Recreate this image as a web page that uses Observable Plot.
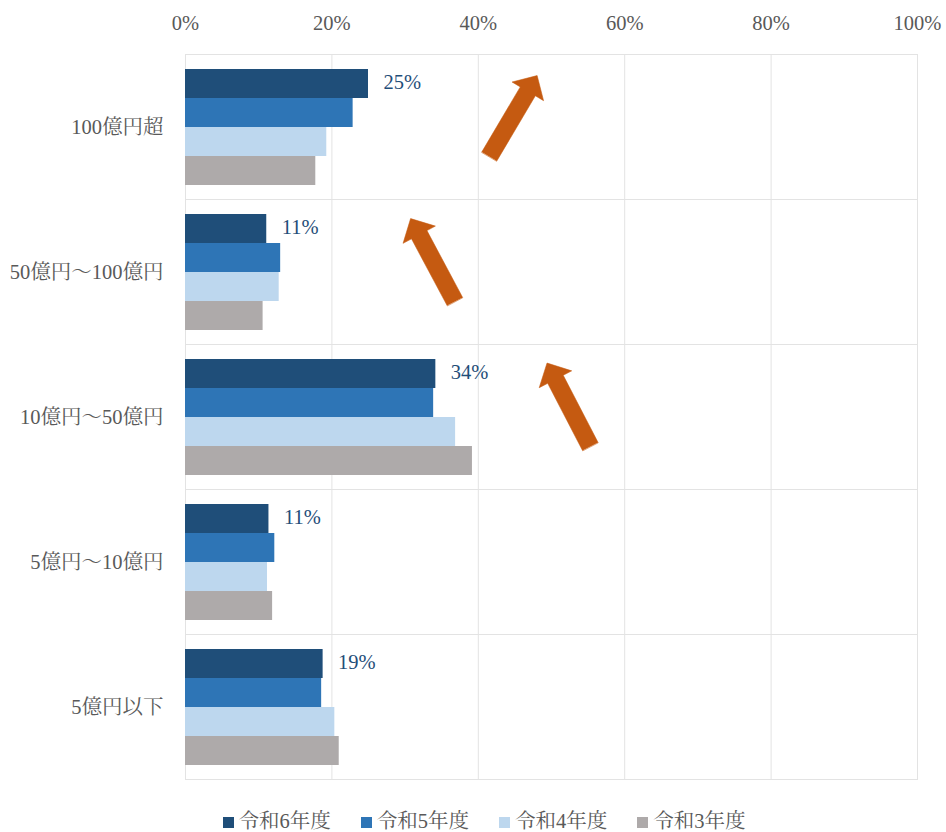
<!DOCTYPE html>
<html><head><meta charset="utf-8">
<script src="https://cdn.jsdelivr.net/npm/d3@7"></script>
<script src="https://cdn.jsdelivr.net/npm/@observablehq/plot@0.6"></script>
<style>
body{margin:0;background:#fff;font-family:"Liberation Serif","Noto Serif CJK JP","Noto Sans CJK JP",serif;}
#chart svg{display:block;}
#legend{display:flex;justify-content:center;gap:30px;padding-top:15px;padding-left:22px;width:924px;height:22px;font-size:20.5px;color:#595959;line-height:22px;}
#legend .item{display:flex;align-items:center;}
#legend .sw{width:11px;height:11px;margin-right:5px;margin-top:2px;}
</style></head><body>
<div id="chart"></div>
<div id="legend"></div>
<script>
const categories = ["100億円超", "50億円～100億円", "10億円～50億円", "5億円～10億円", "5億円以下"];
const series = ["令和6年度", "令和5年度", "令和4年度", "令和3年度"];
const r6 = [25.0, 11.1, 34.2, 11.4, 18.8];
const r5 = [22.9, 13.0, 33.9, 12.2, 18.6];
const r4 = [19.3, 12.8, 36.9, 11.2, 20.4];
const r3 = [17.8, 10.6, 39.2, 11.9, 21.0];
const labels = ["25%", "11%", "34%", "11%", "19%"];
const colors = ["#1f4e79", "#2e75b6", "#bdd7ee", "#aeaaaa"];
const xTicks = [0, 20, 40, 60, 80, 100];
// annotation arrows: category, tail x (%), rotation (deg)
const arrowCats = ["100億円超", "50億円～100億円", "10億円～50億円"];
const arrowX = [41.5, 36.8, 55.3];
const arrowRot = [30.6, -28.1, -27.4];

const valuesBySeries = [r6, r5, r4, r3];
const rows = [];
categories.forEach((c, i) => series.forEach((s, j) => rows.push({category: c, series: s, value: valuesBySeries[j][i]})));
const labelRows = categories.map((c, i) => ({category: c, series: series[0], value: r6[i], label: labels[i]}));
const arrows = arrowCats.map((c, i) => ({category: c, x: arrowX[i], rotate: arrowRot[i], series: series[3]}));

const blockArrow = {
  draw(context, l) {
    const w = 8.75, hw = 18.3, hl = 18.3;
    context.moveTo(-w, 0);
    context.lineTo(-w, -(l - hl));
    context.lineTo(-hw, -(l - hl));
    context.lineTo(0, -l);
    context.lineTo(hw, -(l - hl));
    context.lineTo(w, -(l - hl));
    context.lineTo(w, 0);
    context.closePath();
  }
};

const font = '"Liberation Serif","Noto Serif CJK JP","Noto Sans CJK JP",serif';
const chart = Plot.plot({
  width: 946,
  height: 795,
  marginLeft: 185,
  marginRight: 29,
  marginTop: 53,
  marginBottom: 16,
  style: {fontFamily: font, fontSize: "20.5px", color: "#595959", background: "#fff"},
  x: {domain: [0, 100], ticks: xTicks, tickFormat: d => d + "%", axis: "top", tickSize: 0, tickPadding: 25, label: null},
  y: {domain: series, axis: null, paddingInner: 0, paddingOuter: 0.5},
  fy: {domain: categories, padding: 0, label: null, tickSize: 0, tickPadding: 22, axis: "left"},
  color: {domain: series, range: colors},
  marks: [
    Plot.gridX(xTicks, {stroke: "#e3e3e3", strokeOpacity: 1}),
    Plot.frame({stroke: "#e3e3e3"}),
    Plot.barX(rows, {x: "value", y: "series", fy: "category", fill: "series"}),
    Plot.text(labelRows, {x: "value", y: "series", fy: "category", text: "label", dx: 15, dy: -1.5, textAnchor: "start", fill: "#1f4e79", fontSize: 20.5}),
    Plot.vector(arrows, {x: "x", y: "series", fy: "category", rotate: "rotate", length: 94, anchor: "start", shape: blockArrow, dy: -14.5, fill: "#c55a11", stroke: "#c55a11", strokeWidth: 0.5})
  ]
});
document.getElementById("chart").appendChild(chart);

const legend = document.getElementById("legend");
series.forEach((s, i) => {
  const item = document.createElement("div");
  item.className = "item";
  const sw = document.createElement("span");
  sw.className = "sw";
  sw.style.background = colors[i];
  const t = document.createElement("span");
  t.textContent = s;
  item.appendChild(sw);
  item.appendChild(t);
  legend.appendChild(item);
});
</script>
</body></html>
